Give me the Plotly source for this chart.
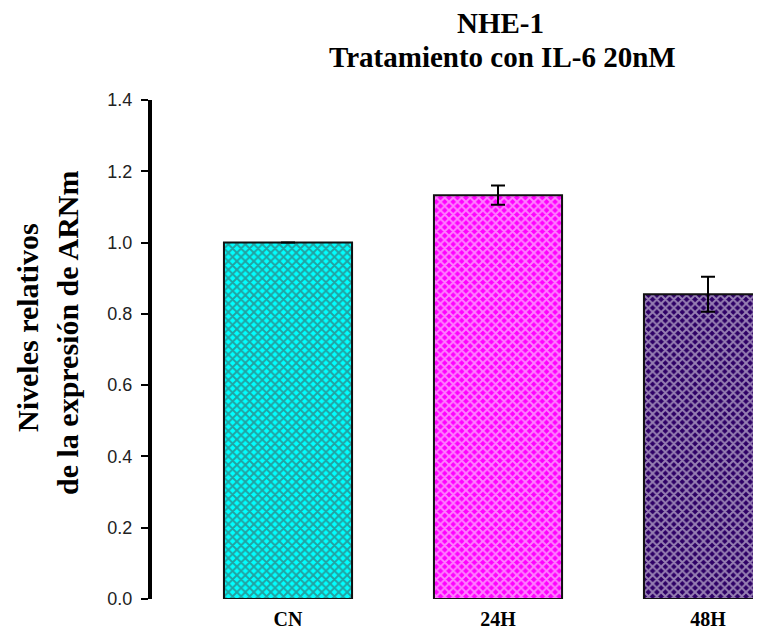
import plotly.graph_objects as go

categories = ["CN", "24H", "48H"]
values = [1.0, 1.133, 0.855]
errors = [0.0, 0.027, 0.049]
fill_colors = ["#00FFFF", "#FF00FF", "#2E0066"]
y_ticks = [0.0, 0.2, 0.4, 0.6, 0.8, 1.0, 1.2, 1.4]

# page body has an 8px margin; figure drawn so the visible page matches
OFF = 8
W, H = 761 - OFF, 635 - OFF
L, R, T, B = 152 - OFF, 0, 100 - OFF, 36
pw = W - L - R
ph = H - T - B

fig = go.Figure()
fig.add_trace(go.Bar(
    x=list(range(len(categories))),
    y=values,
    width=0.61,
    marker=dict(
        color=fill_colors,
        line=dict(color="#111111", width=2),
        pattern=dict(shape="x", fgcolor="#000000", bgcolor=fill_colors,
                     size=6, solidity=0.55, fillmode="overlay"),
    ),
    error_y=dict(type="data", array=errors, visible=True,
                 color="#000000", thickness=2, width=7),
    showlegend=False,
))

def px_x(px):
    return (px - OFF - L) / pw

def px_y(py):
    return (H - B - (py - OFF)) / ph

serif = "Liberation Serif, Times New Roman, serif"
annotations = [
    dict(text="<b>NHE-1</b>", x=px_x(500), y=px_y(23), xref="paper", yref="paper",
         showarrow=False, xanchor="center", yanchor="middle",
         font=dict(family=serif, size=29, color="#000000")),
    dict(text="<b>Tratamiento con IL-6 20nM</b>", x=px_x(502), y=px_y(57), xref="paper", yref="paper",
         showarrow=False, xanchor="center", yanchor="middle",
         font=dict(family=serif, size=29, color="#000000")),
    dict(text="<b>Niveles relativos</b>", x=px_x(27), y=px_y(328), xref="paper", yref="paper",
         showarrow=False, xanchor="center", yanchor="middle", textangle=-90,
         font=dict(family=serif, size=30, color="#000000")),
    dict(text="<b>de la expresión de ARNm</b>", x=px_x(67), y=px_y(333), xref="paper", yref="paper",
         showarrow=False, xanchor="center", yanchor="middle", textangle=-90,
         font=dict(family=serif, size=30, color="#000000")),
]

x0 = (152 - 288) / 210.0
x1 = x0 + pw / 210.0

fig.update_layout(
    width=W, height=H,
    margin=dict(l=L, r=R, t=T, b=B, pad=0),
    paper_bgcolor="white", plot_bgcolor="white",
    annotations=annotations,
    xaxis=dict(
        range=[x0, x1],
        tickmode="array",
        tickvals=list(range(len(categories))),
        ticktext=["<b>%s</b>" % c for c in categories],
        tickfont=dict(family=serif, size=20, color="#000000"),
        showline=False, showgrid=False, zeroline=False, ticks="",
        ticklabelstandoff=6,
    ),
    yaxis=dict(
        range=[0, 1.4],
        tickmode="array",
        tickvals=y_ticks,
        ticktext=["%.1f" % v for v in y_ticks],
        tickfont=dict(family="Liberation Sans, Arial, sans-serif", size=18, color="#222222"),
        showline=True, linecolor="#000000", linewidth=4,
        ticks="outside", ticklen=7, tickwidth=2, tickcolor="#000000",
        ticklabelstandoff=5,
        showgrid=False, zeroline=False,
    ),
)

fig.write_html("out.html")
